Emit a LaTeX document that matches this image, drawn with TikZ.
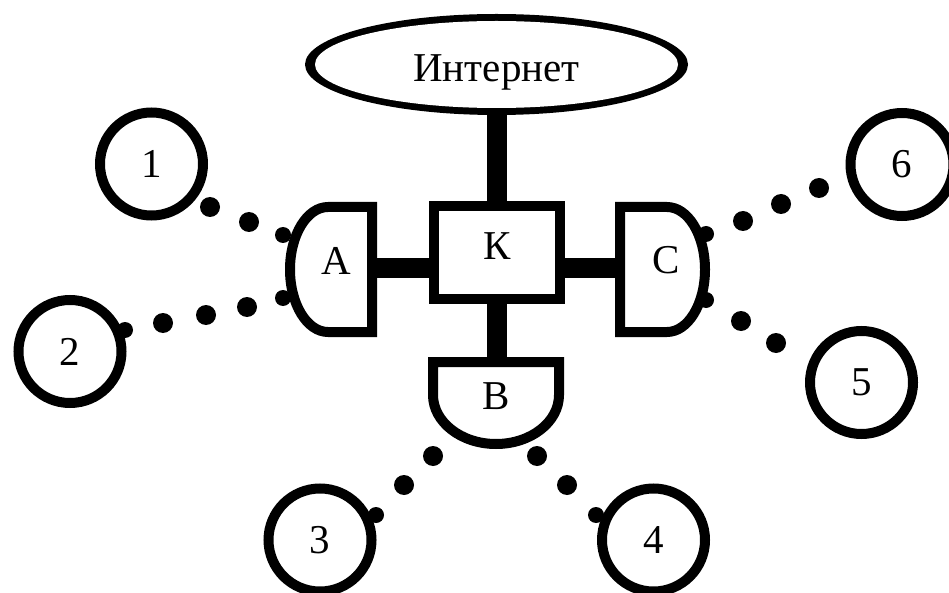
\documentclass[tikz,border=0pt]{standalone}
\usepackage{fontspec}
\setmainfont{Liberation Serif}
\usetikzlibrary{shapes.geometric}
\begin{document}
\begin{tikzpicture}[x=1pt,y=-1pt,
  lbl/.style={font=\fontsize{41}{48}\selectfont, inner sep=0},
  outline/.style={draw=black, line width=10, fill=white},
  host/.style={circle, outline, minimum size=103, inner sep=0,
               font=\fontsize{41}{48}\selectfont},
  trunk/.style={line width=20},
  bead/.style={fill=black},
]
\useasboundingbox (0,0) rectangle (949,593);

% Internet cloud: black ring, thicker at the sides than at top and bottom
\node[ellipse, fill=black, minimum width=383, minimum height=101,
      inner sep=0, outer sep=0] (net) at (496.5,64.5) {};
\node[ellipse, fill=white, minimum width=363, minimum height=87,
      inner sep=0] (netcore) at (net.center) {};
\node[lbl, anchor=base] (netlabel) at (496.5,82) {Интернет};

% central switch K
\node[rectangle, outline, minimum width=126, minimum height=93, inner sep=0]
  (K) at (496.5,252.5) {};
\node[lbl] (Klabel) at (497,246.5) {К};

% hubs A, B, C
\draw[outline] (372,207) -- (328,207)
  arc[start angle=270, end angle=90, x radius=38, y radius=62.5]
  -- (372,332) -- cycle;
\draw[outline] (620,207) -- (667,207)
  arc[start angle=-90, end angle=90, x radius=38, y radius=62.5]
  -- (620,332) -- cycle;
\draw[outline] (433,362) -- (559,362) -- (559,395)
  arc[start angle=0, end angle=180, x radius=63, y radius=49]
  -- (433,395) -- cycle;
\node[lbl] (A) at (336,261) {А};
\node[lbl] (B) at (496,396) {В};
\node[lbl] (C) at (666,260) {С};

\coordinate (Aport) at (377,268);
\coordinate (Cport) at (615,268);
\coordinate (Bport) at (496.5,357);

% thick trunks
\draw[trunk] (net.south) -- (K.north);
\draw[trunk] (K.south) -- (Bport);
\draw[trunk] (Aport) -- (Aport -| K.west);
\draw[trunk] (Cport) -- (Cport -| K.east);

% hosts
\node[host] (h1) at (151.5,164) {1};
\node[host] (h2) at (70,351.5) {2};
\node[host] (h3) at (320,540) {3};
\node[host] (h4) at (653.5,540) {4};
\node[host] (h5) at (861.5,382.5) {5};
\node[host] (h6) at (902,164.5) {6};

% port beads on hubs and hosts
\foreach \p in {(283,235),(283,298),(706,234),(706,300),
                (125,330),(376,515),(596,515)}
  \fill[bead] \p circle[radius=8];

% dotted links
\foreach \p in {(210,207),(249,222),
                (163,323),(206,315),(247,307),
                (404,485),(433,456),
                (567,485),(537,456),
                (741,321),(776,343),
                (743,221),(781,204),(819,188)}
  \fill[bead] \p circle[radius=10];
\end{tikzpicture}
\end{document}
